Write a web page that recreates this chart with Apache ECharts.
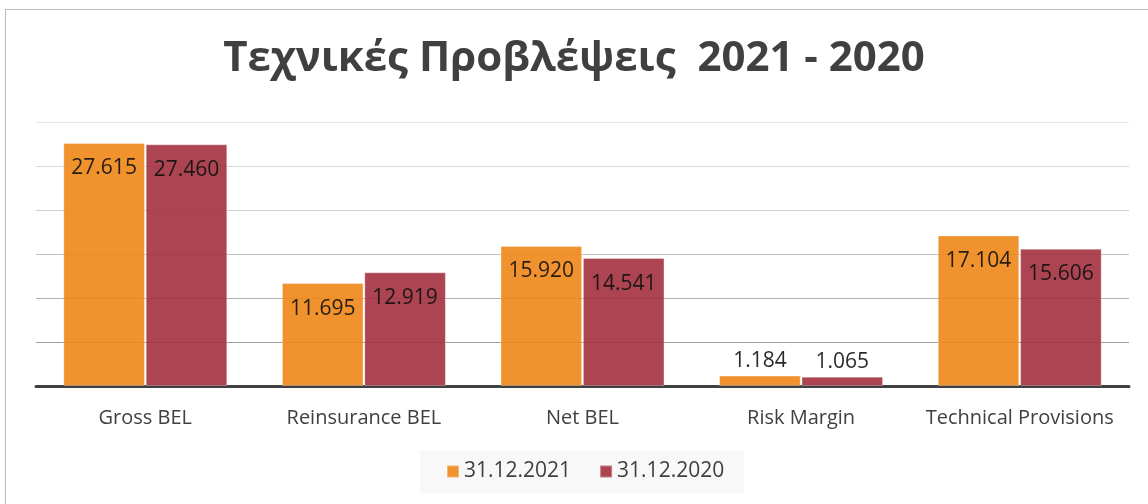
<!DOCTYPE html>
<html>
<head>
<meta charset="utf-8">
<script src="https://cdn.jsdelivr.net/npm/echarts@6/dist/echarts.min.js"></script>
<style>
html,body{margin:0;padding:0;background:#fff;}
#frame{position:absolute;left:5px;top:9px;width:1200px;height:600px;border-top:1px solid #bcbcbc;border-left:1px solid #bcbcbc;}
#chart{position:absolute;left:0;top:0;width:1148px;height:504px;}
</style>
</head>
<body>
<div id="frame"></div>
<div id="chart"></div>
<script>
const categories = ['Gross BEL', 'Reinsurance BEL', 'Net BEL', 'Risk Margin', 'Technical Provisions'];
const seriesNames = ['31.12.2021', '31.12.2020'];
const values2021 = [27615, 11695, 15920, 1184, 17104];
const values2020 = [27460, 12919, 14541, 1065, 15606];
const titleText = 'Τεχνικές Προβλέψεις  2021 - 2020';

const FONT = '"Open Sans", "Noto Sans", sans-serif';
function fmt(v){ return String(v).replace(/\B(?=(\d{3})+(?!\d))/g, '.'); }
function mkData(arr){
  return arr.map(v => ({
    value: v,
    label: v < 3000 ? {position: 'top', distance: 4} : {position: 'insideTop', distance: 15}
  }));
}
const colors = ['#EE8617', '#A3313E'];
const chart = echarts.init(document.getElementById('chart'), null, {renderer: 'canvas'});
chart.setOption({
  animation: false,
  title: {
    text: titleText, left: 'center', top: 33,
    textStyle: {fontFamily: FONT, fontSize: 42, fontWeight: 'bold', color: '#404040'}
  },
  legend: {
    data: seriesNames, bottom: 11, left: 420,
    backgroundColor: '#f8f8f8',
    padding: [11, 20, 11, 26],
    itemWidth: 12, itemHeight: 12, itemGap: 28,
    icon: 'rect',
    textStyle: {fontFamily: FONT, fontSize: 21, color: '#404040'}
  },
  grid: {left: 36, right: 19, top: 122, bottom: 118, containLabel: false},
  xAxis: {
    type: 'category', data: categories,
    axisTick: {show: false},
    axisLine: {lineStyle: {color: '#404040', width: 3}},
    axisLabel: {interval: 0, fontFamily: FONT, fontSize: 20, color: '#404040', margin: 22}
  },
  yAxis: {
    type: 'value', min: 0, max: 30000, interval: 5000,
    axisLabel: {show: false}, axisLine: {show: false}, axisTick: {show: false},
    splitLine: {lineStyle: {width: 1.2, color: ['#404040', '#9e9e9e', '#b0b0b0', '#c2c2c2', '#cfcfcf', '#dadada', '#e4e4e4']}}
  },
  series: [
    {name: seriesNames[0], type: 'bar', data: mkData(values2021), barGap: '1%', barCategoryGap: '25%',
     itemStyle: {color: colors[0], opacity: 0.9, borderColor: 'rgba(255,255,255,0.35)', borderWidth: 1},
     label: {show: true, formatter: p => fmt(p.value), fontFamily: FONT, fontSize: 21, color: '#111'}},
    {name: seriesNames[1], type: 'bar', data: mkData(values2020),
     itemStyle: {color: colors[1], opacity: 0.9, borderColor: 'rgba(255,255,255,0.35)', borderWidth: 1},
     label: {show: true, formatter: p => fmt(p.value), fontFamily: FONT, fontSize: 21, color: '#111'}}
  ]
});
</script>
</body>
</html>
